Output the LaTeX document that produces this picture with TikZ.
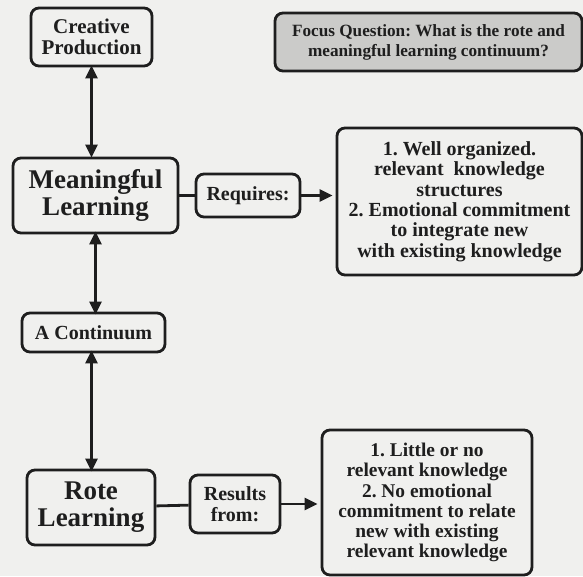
\documentclass[tikz,border=0pt]{standalone}
\usepackage{fontspec}
\setmainfont{Liberation Serif}
\usetikzlibrary{arrows.meta}
\frenchspacing
\definecolor{ink}{HTML}{1E1E1E}
\definecolor{paper}{HTML}{F0F0EE}
\definecolor{qfill}{HTML}{CBCBC9}
\begin{document}
\begin{tikzpicture}[x=1pt,y=-1pt,
  box/.style={draw=ink, line width=2.8pt, rounded corners=8pt, text=ink,
    align=center, inner sep=0pt, font=\bfseries},
  link/.style={draw=ink, line width=2.8pt},
  tip/.style={-{Triangle[length=13pt,width=12pt]}},
  both/.style={{Triangle[length=13pt,width=12pt]}-{Triangle[length=13pt,width=12pt]}}
]
% page
\fill[paper] (0,0) rectangle (583,576);
\useasboundingbox (0,0) rectangle (583,576);

% concepts
\node[box, minimum width=121pt, minimum height=58pt, font=\bfseries\fontsize{21}{21.5}\selectfont]
  (cp) at (91.5,37) {Creative\\Production};
\node[box, fill=qfill, minimum width=307pt, minimum height=58pt, font=\bfseries\fontsize{17.2}{20}\selectfont]
  (fq) at (428.5,42) {Focus Question: What is the rote and\\meaningful learning continuum?};
\node[box, minimum width=165pt, minimum height=75pt, font=\bfseries\fontsize{27}{27}\selectfont]
  (ml) at (95.5,195.5) {Meaningful\\Learning};
\node[box, minimum width=104pt, minimum height=43pt, font=\bfseries\fontsize{20}{22}\selectfont]
  (rq) at (248,195.5) {Requires:};
\node[box, minimum width=245pt, minimum height=147pt, font=\bfseries\fontsize{20}{20.4}\selectfont]
  (wo) at (459.5,201.5) {1. Well organized.\\relevant\ \ knowledge\\structures\\2. Emotional commitment\\to integrate new\\with existing knowledge};
\node[box, minimum width=143pt, minimum height=39pt, font=\bfseries\fontsize{20}{22}\selectfont]
  (ac) at (93.5,332.5) {A Continuum};
\node[box, minimum width=128pt, minimum height=75pt, font=\bfseries\fontsize{27}{27}\selectfont]
  (rl) at (91,507.5) {Rote\\Learning};
\node[box, minimum width=90pt, minimum height=58pt, font=\bfseries\fontsize{20}{20.5}\selectfont]
  (rf) at (235,504) {Results\\from:};
\node[box, minimum width=210pt, minimum height=145pt, font=\bfseries\fontsize{19.4}{20.2}\selectfont]
  (ln) at (427,502.5) {1. Little or no\\relevant knowledge\\2. No emotional\\commitment to relate\\new with existing\\relevant knowledge};

% connectors
\draw[link, both] ([yshift=2pt]cp.south) -- ([yshift=-1pt]cp.south |- ml.north);
\draw[link, both] ([yshift=3pt]ml.south) -- ([yshift=-3pt]ml.south |- ac.north);
\draw[link, both] ([xshift=-2pt,yshift=3pt]ac.south) -- ([xshift=-2pt,yshift=-3pt]ac.south |- rl.north);
\draw[link] (ml) -- (rq);
\draw[link, tip] (rq) -- ([xshift=-3pt]wo.west |- rq.east);
\draw[link] (rl) -- (rf);
\draw[link, tip] (rf) -- ([xshift=-3pt]ln.west |- rf.east);
\end{tikzpicture}
\end{document}
